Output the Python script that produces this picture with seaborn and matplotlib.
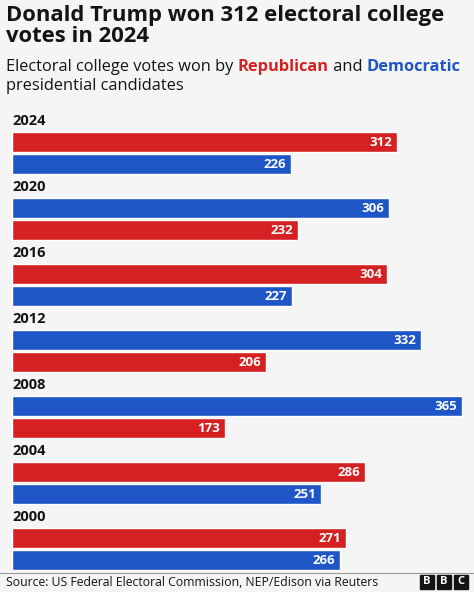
import pandas as pd
import seaborn as sns
import matplotlib.pyplot as plt
from matplotlib.patches import Rectangle

years = ["2024", "2020", "2016", "2012", "2008", "2004", "2000"]
first_party = ["Rep", "Dem", "Rep", "Dem", "Dem", "Rep", "Rep"]
first_votes = [312, 306, 304, 332, 365, 286, 271]
second_party = ["Dem", "Rep", "Dem", "Rep", "Rep", "Dem", "Dem"]
second_votes = [226, 232, 227, 206, 173, 251, 266]

RED = "#d52121"
BLUE = "#1e56c8"
BG = "#f5f5f5"

rows = []
order = []
for i, y in enumerate(years):
    order += [f"{y}_label", f"{y}_a", f"{y}_b"]
    rows.append({"slot": f"{y}_a", "votes": first_votes[i], "party": first_party[i]})
    rows.append({"slot": f"{y}_b", "votes": second_votes[i], "party": second_party[i]})
df = pd.DataFrame(rows)

sns.set_theme(style="white")
plt.rcParams["font.family"] = ["Open Sans", "DejaVu Sans"]

W, H = 474, 592
fig = plt.figure(figsize=(W / 100, H / 100), dpi=100, facecolor=BG)
ax = fig.add_axes([12 / W, (H - 571) / H, 450 / W, 462 / H])
ax.set_facecolor(BG)

sns.barplot(data=df, x="votes", y="slot", hue="party", order=order,
            palette={"Rep": RED, "Dem": BLUE}, dodge=False, width=0.88,
            saturation=1, orient="h", legend=False, ax=ax)
ax.set_xlim(0, 365)
ax.set_ylim(len(order) - 0.5, -0.5)
ax.set_axis_off()

for i, y in enumerate(years):
    ax.text(0, 3 * i + 0.05, y, fontsize=10.5, fontweight="bold", va="center", ha="left", color="#141414")
    ax.text(first_votes[i] - 4, 3 * i + 1, str(first_votes[i]), color="white",
            fontsize=9.5, fontweight="bold", va="center", ha="right")
    ax.text(second_votes[i] - 4, 3 * i + 2, str(second_votes[i]), color="white",
            fontsize=9.5, fontweight="bold", va="center", ha="right")

fig.text(6 / W, 1 - 5 / H, "Donald Trump won 312 electoral college\nvotes in 2024",
         fontsize=15.8, fontweight="bold", va="top", ha="left", color="#141414", linespacing=0.98)

# subtitle with coloured party names
fig.canvas.draw()
r = fig.canvas.get_renderer()
x = 6 / W
ysub = 1 - 59 / H
for part, col, wt in [("Electoral college votes won by ", "#141414", "normal"),
                      ("Republican", RED, "bold"), (" and ", "#141414", "normal"),
                      ("Democratic", BLUE, "bold")]:
    t = fig.text(x, ysub, part, fontsize=11.8, color=col, fontweight=wt, va="top", ha="left")
    x += t.get_window_extent(r).width / W
fig.text(6 / W, 1 - 78 / H, "presidential candidates", fontsize=11.8, color="#141414", va="top", ha="left")

fig.add_artist(plt.Line2D([0, 1], [1 - 573 / H, 1 - 573 / H], color="#999999", lw=0.8))
fig.text(6 / W, 1 - 582 / H, "Source: US Federal Electoral Commission, NEP/Edison via Reuters",
         fontsize=8.8, va="center", ha="left", color="#141414")
for k, ch in enumerate("BBC"):
    x0 = 420 + k * 17
    fig.add_artist(Rectangle((x0 / W, 1 - 589 / H), 14 / W, 14 / H, color="#141414"))
    fig.text((x0 + 7) / W, 1 - 582 / H, ch, color="white", fontsize=8, fontweight="bold",
             ha="center", va="center")

fig.savefig("out.png", dpi=100, facecolor=BG)
